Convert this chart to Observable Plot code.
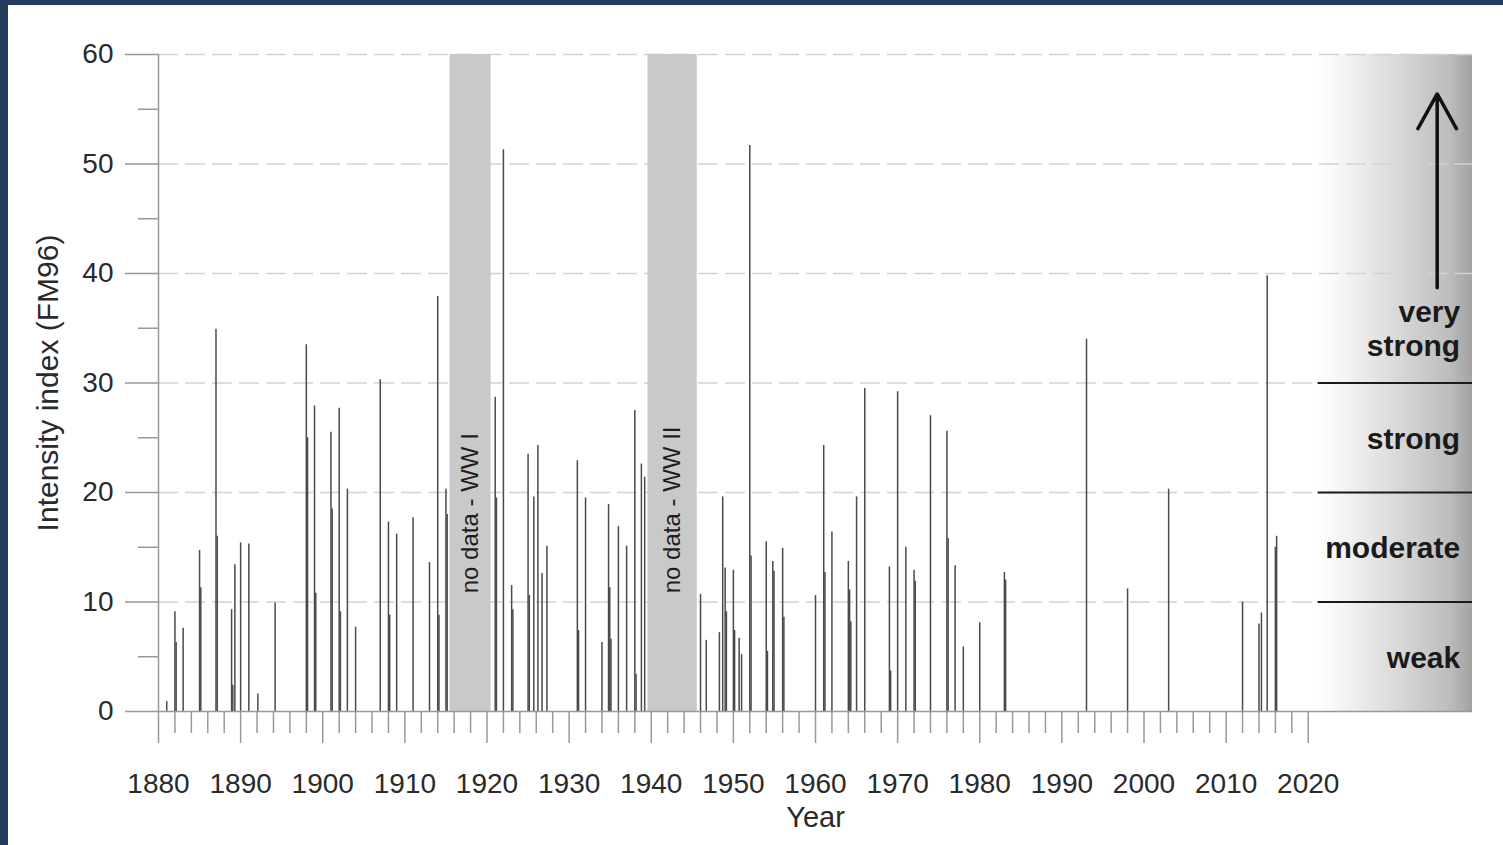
<!DOCTYPE html>
<html>
<head>
<meta charset="utf-8">
<script src="https://cdn.jsdelivr.net/npm/d3@7"></script>
<script src="https://cdn.jsdelivr.net/npm/@observablehq/plot@0.6"></script>
<style>
  html, body { margin: 0; padding: 0; background: #ffffff; overflow: hidden; }
  #frame { width: 1495px; height: 840px; border-top: 5px solid #243d5f; border-left: 8px solid #243d5f; background: #fff; }
</style>
</head>
<body>
<div id="frame"></div>
<script>
// ---- Data ----
const eventYears = [
  1881, 1882, 1882.15, 1883, 1885, 1885.15, 1887, 1887.15, 1888.9, 1889.05, 1889.3, 1890, 1891, 1892.1, 1894.2,
  1898, 1898.15, 1899, 1899.15, 1901, 1901.15, 1902, 1902.15, 1903, 1904, 1907, 1908, 1908.15, 1909, 1911, 1913,
  1914, 1914.15, 1915, 1915.15,
  1921, 1921.15, 1922, 1923, 1923.15, 1925, 1925.15, 1925.7, 1926.2, 1926.7, 1927.3, 1931, 1931.15, 1932, 1934,
  1934.8, 1934.95, 1935.1, 1936, 1937, 1938, 1938.15, 1938.8, 1939.2,
  1946, 1946.7, 1948.3, 1948.7, 1949, 1949.15, 1950, 1950.15, 1950.7, 1951, 1952, 1952.15, 1954, 1954.15, 1954.8,
  1954.95, 1956, 1956.15, 1960, 1961, 1961.15, 1962, 1964, 1964.15, 1964.3, 1965, 1966, 1969, 1969.15, 1970, 1971,
  1972, 1972.15, 1974, 1976, 1976.15, 1977, 1978, 1980, 1983, 1983.15,
  1993, 1998, 2003, 2012, 2014, 2014.3, 2015, 2016, 2016.15
];
const eventValues = [
  0.9, 9.1, 6.3, 7.6, 14.7, 11.3, 34.9, 16.0, 9.3, 2.4, 13.4, 15.4, 15.3, 1.6, 9.9,
  33.5, 25.0, 27.9, 10.8, 25.5, 18.5, 27.7, 9.1, 20.3, 7.7, 30.3, 17.3, 8.8, 16.2, 17.7, 13.6,
  37.9, 8.8, 20.3, 18.0,
  28.7, 19.5, 51.3, 11.5, 9.3, 23.5, 10.6, 19.6, 24.3, 12.6, 15.1, 22.9, 7.4, 19.5, 6.3,
  18.9, 11.3, 6.6, 16.9, 15.1, 27.5, 3.4, 22.6, 21.4,
  10.7, 6.5, 7.2, 19.6, 13.1, 9.1, 12.9, 7.4, 6.7, 5.2, 51.7, 14.2, 15.5, 5.5, 13.7,
  12.8, 14.9, 8.6, 10.6, 24.3, 12.7, 16.4, 13.7, 11.1, 8.2, 19.6, 29.5, 13.2, 3.7, 29.2, 15.0,
  12.9, 11.9, 27.0, 25.6, 15.8, 13.3, 5.9, 8.1, 12.7, 12.0,
  34.0, 11.2, 20.3, 10.0, 8.0, 9.0, 39.8, 15.0, 16.0
];

const gapStart = [1915.5, 1939.6];
const gapEnd = [1920.5, 1945.6];
const gapLabels = ["no data - WW I", "no data - WW II"];
const gapLabelBottom = [10.8, 10.8];

const xDomain = [1880, 2040];
const yDomain = [0, 60];
const decadeTicks = d3.range(1880, 2021, 10);
const minorXTicks = d3.range(1882, 2020, 2).filter(y => y % 10 !== 0);
const yMajorTicks = [0, 10, 20, 30, 40, 50, 60];
const yMinorTicks = [5, 15, 25, 35, 45, 55];
const gridValues = [10, 20, 30, 40, 50, 60];

const categoryNames = ["weak", "moderate", "strong", "very\nstrong"];
const categoryLabelY = [5, 15, 25, 35];
const categoryBounds = [10, 20, 30];
const panelRange = [2021.2, 2040];
const categoryLabelX = [2038.5];
const arrowX = [2035.7];
const arrowFrom = [38.7];
const arrowTo = [56.4];

// ---- Derived tables ----
const events = eventYears.map((year, i) => ({year, value: eventValues[i]}));
const gaps = gapStart.map((s, i) => ({s, e: gapEnd[i], mid: (s + gapEnd[i]) / 2, label: gapLabels[i], bottom: gapLabelBottom[i]}));
const categories = categoryNames.map((name, i) => ({name, y: categoryLabelY[i]}));

const font = "'Liberation Sans', Arial, Helvetica, sans-serif";

const chart = Plot.plot({
  width: 1495,
  height: 840,
  marginLeft: 150,
  marginRight: 31,
  marginTop: 49,
  marginBottom: 134,
  style: {fontFamily: font, fontSize: "28px", color: "#2a2a2a", background: "#fff", overflow: "visible"},
  x: {domain: xDomain},
  y: {domain: yDomain},
  marks: [
    // intensity category panel
    Plot.rect([panelRange], {x1: d => d[0], x2: d => d[1], y1: yDomain[0], y2: yDomain[1], fill: "url(#panelGrad)"}),
    // dashed gridlines
    Plot.ruleY(gridValues, {stroke: "#d2d2d2", strokeWidth: 1.4, strokeDasharray: "20,7"}),
    // no-data bands
    Plot.rect(gaps, {x1: "s", x2: "e", y1: yDomain[0], y2: yDomain[1], fill: "#c9c9c9"}),
    Plot.text(gaps, {x: "mid", y: "bottom", text: "label", rotate: -90, textAnchor: "start", fontSize: 24, fill: "#1e1e1e"}),
    // events
    Plot.ruleX(events, {x: "year", y1: 0, y2: "value", stroke: "#4a4a4a", strokeWidth: 1.5}),
    // baseline and y axis line
    Plot.ruleY([0], {stroke: "#999", strokeWidth: 1.5}),
    Plot.ruleX([xDomain[0]], {stroke: "#999", strokeWidth: 1.5}),
    // category boundaries and labels
    Plot.ruleY(categoryBounds, {x1: panelRange[0], x2: panelRange[1], stroke: "#1a1a1a", strokeWidth: 2}),
    Plot.text(categories, {x: categoryLabelX[0], y: "y", text: "name", textAnchor: "end", fontSize: 30, fontWeight: "bold", fill: "#1a1a1a", lineHeight: 1.12}),
    Plot.arrow(arrowX, {x1: d => d, x2: d => d, y1: arrowFrom[0], y2: arrowTo[0], stroke: "#111", strokeWidth: 3.5, headLength: 17, headAngle: 58}),
    // axes
    Plot.axisY({ticks: yMajorTicks, tickSize: 33, tickPadding: 12, fontSize: 28, stroke: "#999", strokeWidth: 1.5, fill: "#2a2a2a", label: null}),
    Plot.axisY({ticks: yMinorTicks, tickSize: 20, text: null, tickFormat: () => "", stroke: "#999", strokeWidth: 1.5, label: null}),
    Plot.axisX({ticks: decadeTicks, tickSize: 32, tickPadding: 30, fontSize: 28, tickFormat: d => String(d), stroke: "#999", strokeWidth: 1.5, fill: "#2a2a2a", label: null}),
    Plot.axisX({ticks: minorXTicks, tickSize: 22, text: null, tickFormat: () => "", stroke: "#999", strokeWidth: 1.5, label: null}),
    // axis titles
    Plot.text(["Intensity index (FM96)"], {frameAnchor: "left", textAnchor: "middle", rotate: -90, dx: -110, fontSize: 30, fill: "#2a2a2a"}),
    Plot.text(["Year"], {frameAnchor: "bottom", lineAnchor: "top", dy: 95, fontSize: 29, fill: "#2a2a2a"})
  ]
});

const ns = "http://www.w3.org/2000/svg";
const defs = document.createElementNS(ns, "defs");
const grad = document.createElementNS(ns, "linearGradient");
grad.setAttribute("id", "panelGrad");
grad.setAttribute("x1", "0"); grad.setAttribute("x2", "1");
grad.setAttribute("y1", "0"); grad.setAttribute("y2", "0");
[[0, "#ffffff"], [0.18, "#f3f3f3"], [0.5, "#dadada"], [0.85, "#bdbdbd"], [1, "#a2a2a2"]].forEach(([o, c]) => {
  const s = document.createElementNS(ns, "stop");
  s.setAttribute("offset", o);
  s.setAttribute("stop-color", c);
  grad.appendChild(s);
});
defs.appendChild(grad);
chart.insertBefore(defs, chart.firstChild);

document.getElementById("frame").appendChild(chart);
</script>
</body>
</html>
